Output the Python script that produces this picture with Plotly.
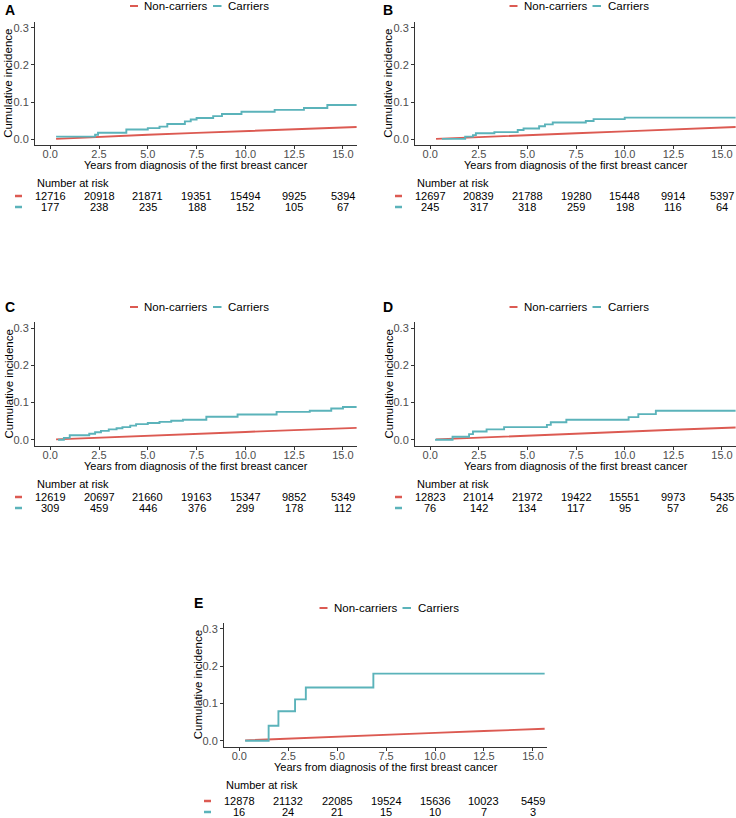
import plotly.graph_objects as go

W, H = 736, 818
FONT = "Liberation Sans, Arial, sans-serif"
RED = "#DC5A52"
TEAL = "#5BB3BA"

risk_times = [0, 2.5, 5, 7.5, 10, 12.5, 15]
tick_vals_x = [0, 2.5, 5, 7.5, 10, 12.5, 15]
tick_text_x = ["0.0", "2.5", "5.0", "7.5", "10.0", "12.5", "15.0"]
tick_vals_y = [0, 0.1, 0.2, 0.3]
tick_text_y = ["0.0", "0.1", "0.2", "0.3"]

# Non-carriers (red) curves
nc_time = [0.3, 2.5, 5.0, 7.5, 10.0, 12.5, 15.7]
nc_time_E = [0.3, 2.5, 5.0, 7.5, 10.0, 12.5, 15.6]
A_nc = [0.001, 0.007, 0.012, 0.017, 0.022, 0.027, 0.033]
B_nc = [0.001, 0.006, 0.011, 0.016, 0.021, 0.026, 0.033]
C_nc = [0.001, 0.006, 0.011, 0.016, 0.021, 0.026, 0.032]
D_nc = [0.001, 0.006, 0.011, 0.016, 0.022, 0.027, 0.033]
E_nc = [0.001, 0.006, 0.011, 0.016, 0.021, 0.026, 0.032]

# Carriers (teal) step curves
A_c_time = [0.3, 2.3, 2.45, 3.9, 5.0, 5.6, 6.0, 6.9, 7.2, 7.5, 8.35, 8.8, 9.8, 11.5, 13.0, 14.2, 15.7]
A_c = [0.007, 0.012, 0.0175, 0.026, 0.030, 0.034, 0.041, 0.048, 0.053, 0.057, 0.062, 0.068, 0.074, 0.079, 0.084, 0.092, 0.092]
B_c_time = [0.6, 1.8, 2.2, 2.35, 3.3, 4.5, 4.8, 5.6, 5.9, 6.3, 8.0, 8.4, 10.0, 15.7]
B_c = [0.001, 0.007, 0.011, 0.016, 0.019, 0.025, 0.029, 0.035, 0.040, 0.045, 0.049, 0.054, 0.058, 0.058]
C_c_time = [0.4, 0.7, 1.0, 2.0, 2.3, 2.6, 3.0, 3.4, 3.7, 4.1, 4.4, 5.0, 5.6, 6.2, 6.8, 8.0, 9.6, 11.6, 13.3, 14.4, 15.0, 15.7]
C_c = [0.0, 0.005, 0.012, 0.016, 0.020, 0.024, 0.028, 0.031, 0.034, 0.038, 0.042, 0.045, 0.048, 0.051, 0.054, 0.062, 0.068, 0.075, 0.078, 0.084, 0.088, 0.088]
D_c_time = [0.25, 1.15, 2.0, 2.2, 2.9, 3.8, 6.0, 6.2, 7.0, 10.2, 10.7, 11.6, 15.7]
D_c = [0.0, 0.008, 0.015, 0.022, 0.028, 0.034, 0.040, 0.047, 0.054, 0.061, 0.069, 0.078, 0.078]
E_c_time = [0.3, 1.5, 2.0, 2.85, 3.4, 6.85, 15.6]
E_c = [0.0, 0.040, 0.079, 0.111, 0.143, 0.180, 0.180]

# Number at risk
A_risk_nc = [12716, 20918, 21871, 19351, 15494, 9925, 5394]
A_risk_c = [177, 238, 235, 188, 152, 105, 67]
B_risk_nc = [12697, 20839, 21788, 19280, 15448, 9914, 5397]
B_risk_c = [245, 317, 318, 259, 198, 116, 64]
C_risk_nc = [12619, 20697, 21660, 19163, 15347, 9852, 5349]
C_risk_c = [309, 459, 446, 376, 299, 178, 112]
D_risk_nc = [12823, 21014, 21972, 19422, 15551, 9973, 5435]
D_risk_c = [76, 142, 134, 117, 95, 57, 26]
E_risk_nc = [12878, 21132, 22085, 19524, 15636, 10023, 5459]
E_risk_c = [16, 24, 21, 15, 10, 7, 3]

panel_labels = ["A", "B", "C", "D", "E"]
legend_names = ["Non-carriers", "Carriers"]
x_title = "Years from diagnosis of the first breast cancer"
y_title = "Cumulative incidence"
risk_title = "Number at risk"

# layout geometry in pixels
geom = [
    dict(l=35, r=357, t=21.7, b=145, lx=3, ly=10, legy=6, nar=38, r1=51, r2=62),
    dict(l=415, r=736, t=21.7, b=145, lx=381, ly=10, legy=6, nar=38, r1=51, r2=62),
    dict(l=35, r=357, t=322.4, b=445.5, lx=3, ly=307, legy=307, nar=38.5, r1=51.5, r2=62.5),
    dict(l=415, r=736, t=322.4, b=445.5, lx=381, ly=307, legy=307, nar=38.5, r1=51.5, r2=62.5),
    dict(l=224, r=547, t=623, b=746.5, lx=192, ly=603, legy=608, nar=38.5, r1=54.5, r2=65.5),
]

data = [
    (nc_time, A_nc, A_c_time, A_c, A_risk_nc, A_risk_c),
    (nc_time, B_nc, B_c_time, B_c, B_risk_nc, B_risk_c),
    (nc_time, C_nc, C_c_time, C_c, C_risk_nc, C_risk_c),
    (nc_time, D_nc, D_c_time, D_c, D_risk_nc, D_risk_c),
    (nc_time_E, E_nc, E_c_time, E_c, E_risk_nc, E_risk_c),
]


def fx(px):
    return px / W


def fy(py):
    return 1 - py / H


fig = go.Figure()
annotations = []
shapes = []
layout_axes = {}

for i, (g, (ntime, nval, ctime, cval, rnc, rc)) in enumerate(zip(geom, data)):
    k = "" if i == 0 else str(i + 1)
    xa, ya = "x" + k, "y" + k
    fig.add_trace(go.Scatter(x=ntime, y=nval, mode="lines", xaxis=xa, yaxis=ya,
                             line=dict(color=RED, width=1.9), name=legend_names[0],
                             showlegend=False))
    fig.add_trace(go.Scatter(x=ctime, y=cval, mode="lines", xaxis=xa, yaxis=ya,
                             line=dict(color=TEAL, width=1.9, shape="hv"), name=legend_names[1],
                             showlegend=False))
    layout_axes["xaxis" + k] = dict(
        domain=[fx(g["l"]), fx(g["r"])], anchor=ya, range=[-0.78, 15.72],
        tickvals=tick_vals_x, ticktext=tick_text_x, showgrid=False, zeroline=False,
        showline=True, linecolor="#333333", linewidth=1, ticks="outside", ticklen=3,
        tickcolor="#333333", ticklabelstandoff=-4,
        tickfont=dict(family=FONT, size=11, color="#4D4D4D"))
    layout_axes["yaxis" + k] = dict(
        domain=[fy(g["b"]), fy(g["t"])], anchor=xa, range=[-0.0155, 0.316],
        tickvals=tick_vals_y, ticktext=tick_text_y, showgrid=False, zeroline=False,
        showline=True, linecolor="#333333", linewidth=1, ticks="outside", ticklen=3,
        tickcolor="#333333", tickfont=dict(family=FONT, size=11, color="#4D4D4D"))

    cx = (g["l"] + g["r"]) / 2
    cy = (g["t"] + g["b"]) / 2
    annotations.append(dict(text="<b>%s</b>" % panel_labels[i], x=fx(g["lx"]), y=fy(g["ly"]),
                            xref="paper", yref="paper", xanchor="left", yanchor="middle",
                            showarrow=False, font=dict(family=FONT, size=14, color="black")))
    annotations.append(dict(text=y_title, x=fx(g["l"] - 26.5), y=fy(cy), xref="paper", yref="paper",
                            xanchor="center", yanchor="middle", textangle=-90, showarrow=False,
                            font=dict(family=FONT, size=11.5, color="black")))
    annotations.append(dict(text=x_title, x=fx(cx), y=fy(g["b"] + 20), xref="paper", yref="paper",
                            xanchor="center", yanchor="middle", showarrow=False,
                            font=dict(family=FONT, size=11, color="black")))
    ly = fy(g["legy"])
    shapes.append(dict(type="line", xref="paper", yref="paper", x0=fx(cx - 66), x1=fx(cx - 58),
                       y0=ly, y1=ly, line=dict(color=RED, width=2)))
    annotations.append(dict(text=legend_names[0], x=fx(cx - 54), y=ly, xref="paper", yref="paper",
                            xanchor="left", yanchor="middle", showarrow=False,
                            font=dict(family=FONT, size=11.5, color="black")))
    shapes.append(dict(type="line", xref="paper", yref="paper", x0=fx(cx + 17), x1=fx(cx + 25.5),
                       y0=ly, y1=ly, line=dict(color=TEAL, width=2)))
    annotations.append(dict(text=legend_names[1], x=fx(cx + 30), y=ly, xref="paper", yref="paper",
                            xanchor="left", yanchor="middle", showarrow=False,
                            font=dict(family=FONT, size=11.5, color="black")))
    annotations.append(dict(text=risk_title, x=fx(g["l"]), y=fy(g["b"] + g["nar"]), xref="paper",
                            yref="paper", xanchor="left", yanchor="middle", showarrow=False,
                            font=dict(family=FONT, size=11, color="black")))
    for row, (vals, col, off) in enumerate([(rnc, RED, g["r1"]), (rc, TEAL, g["r2"])]):
        yy = fy(g["b"] + off)
        shapes.append(dict(type="line", xref="paper", yref="paper", x0=fx(g["l"] - 20),
                           x1=fx(g["l"] - 13), y0=yy, y1=yy, line=dict(color=col, width=2.5)))
        for t, v in zip(risk_times, vals):
            annotations.append(dict(text=str(v), x=t, y=yy, xref=xa, yref="paper",
                                    xanchor="center", yanchor="middle", showarrow=False,
                                    font=dict(family=FONT, size=11, color="black")))

fig.update_layout(
    width=W, height=H, margin=dict(l=0, r=0, t=0, b=0),
    paper_bgcolor="white", plot_bgcolor="white", showlegend=False,
    annotations=annotations, shapes=shapes, **layout_axes)

fig.write_html("out.html", config={"displayModeBar": False},
               post_script="document.body.style.margin='0';document.body.style.padding='0';")
